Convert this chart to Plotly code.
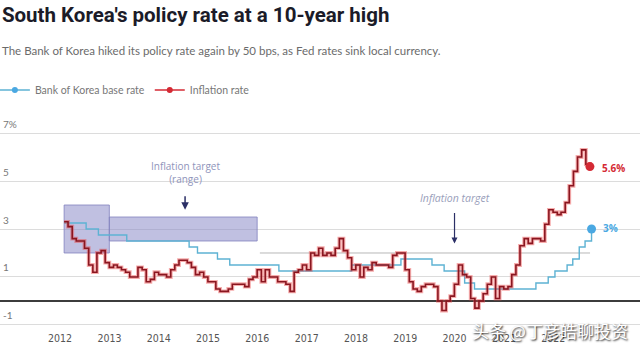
import plotly.graph_objects as go
import pandas as pd

# ---------------- data ----------------
years = list(range(2012, 2023))
year_labels = [str(y) for y in years]

# Bank of Korea base rate: change dates and new levels (%)
rate_dates = ["2012-01-31", "2012-07-12", "2012-10-11", "2013-05-09", "2014-08-14",
              "2014-10-15", "2015-03-12", "2015-06-11", "2016-06-09", "2017-11-30",
              "2018-11-30", "2019-07-18", "2019-10-16", "2020-03-16", "2020-05-28",
              "2021-08-26", "2021-11-25", "2022-01-14", "2022-04-14", "2022-05-26",
              "2022-07-13", "2022-08-25", "2022-10-12"]
rate_values = [3.25, 3.00, 2.75, 2.50, 2.25, 2.00, 1.75, 1.50, 1.25, 1.50,
               1.75, 1.50, 1.25, 0.75, 0.50, 0.75, 1.00, 1.25, 1.50, 1.75,
               2.25, 2.50, 3.00]

# Inflation (CPI y/y, %), monthly Jan 2012 - Sep 2022
cpi_values = [
    3.3, 3.1, 2.6, 2.5, 2.5, 2.2, 1.5, 1.2, 2.0, 2.1, 1.6, 1.4,   # 2012
    1.5, 1.4, 1.3, 1.2, 1.0, 1.0, 1.4, 1.3, 0.8, 0.9, 1.2, 1.1,   # 2013
    1.1, 1.0, 1.3, 1.5, 1.7, 1.7, 1.6, 1.4, 1.1, 1.2, 1.0, 0.8,   # 2014
    0.8, 0.5, 0.4, 0.4, 0.5, 0.7, 0.7, 0.7, 0.6, 0.9, 1.0, 1.3,   # 2015
    0.8, 1.3, 1.0, 1.0, 0.8, 0.8, 0.7, 0.4, 1.2, 1.3, 1.5, 1.3,   # 2016
    2.0, 1.9, 2.2, 1.9, 2.0, 1.9, 2.2, 2.6, 2.1, 1.8, 1.3, 1.5,   # 2017
    1.0, 1.4, 1.3, 1.6, 1.5, 1.5, 1.5, 1.4, 1.9, 2.0, 2.0, 1.3,   # 2018
    0.8, 0.5, 0.4, 0.6, 0.7, 0.7, 0.6, 0.0, -0.4, 0.0, 0.2, 0.7,  # 2019
    1.5, 1.1, 1.0, 0.1, -0.3, 0.0, 0.3, 0.7, 1.0, 0.1, 0.6, 0.5,  # 2020
    0.6, 1.1, 1.5, 2.3, 2.6, 2.4, 2.6, 2.6, 2.5, 3.2, 3.8, 3.7,   # 2021
    3.6, 3.7, 4.1, 4.8, 5.4, 6.0, 6.3, 5.7, 5.6,                  # 2022
]
cpi_dates = pd.date_range("2012-01-31", periods=len(cpi_values), freq="ME")

# Inflation target ranges (start, end, low, high) and point target
target_ranges = [("2012-01-31", "2012-12-31", 2.0, 4.0),
                 ("2012-12-31", "2015-12-31", 2.5, 3.5)]
target_line_dates = ["2016-01-20", "2022-10-01"]
target_line_values = [2.0, 2.0]

ytick_vals = [-1, 1, 3, 5, 7]
ytick_text = ["-1", "1", "3", "5", "7%"]

# ---------------- figure ----------------
BLUE = "#5db2d3"
fig = go.Figure()

for (s, e, lo, hi) in target_ranges:
    fig.add_shape(type="rect", xref="x", yref="y", x0=s, x1=e, y0=lo, y1=hi,
                  fillcolor="rgba(140,140,200,0.55)",
                  line=dict(color="rgba(130,130,190,0.8)", width=1), layer="between")

fig.add_trace(go.Scatter(x=target_line_dates, y=target_line_values, mode="lines",
                         line=dict(color="#b8b8b8", width=1), showlegend=False,
                         hoverinfo="skip"))

fig.add_trace(go.Scatter(x=rate_dates, y=rate_values, mode="lines", line_shape="hv",
                         line=dict(color=BLUE, width=1.4), showlegend=False))
fig.add_trace(go.Scatter(x=list(cpi_dates), y=cpi_values, mode="lines", line_shape="hv",
                         line=dict(color="rgba(235,70,70,0.45)", width=3.8),
                         showlegend=False, hoverinfo="skip"))
fig.add_trace(go.Scatter(x=list(cpi_dates), y=cpi_values, mode="lines", line_shape="hv",
                         line=dict(color="#8a1620", width=1.6), showlegend=False))

# end markers
fig.add_trace(go.Scatter(x=[rate_dates[-1]], y=[rate_values[-1]], mode="markers",
                         marker=dict(color="#4aa8e2", size=9), showlegend=False))
fig.add_trace(go.Scatter(x=[cpi_dates[-1]], y=[cpi_values[-1]], mode="markers",
                         marker=dict(color="#d42a34", size=9), showlegend=False))

# legend entries
fig.add_trace(go.Scatter(x=[None], y=[None], mode="lines+markers", name="Bank of Korea base rate",
                         line=dict(color=BLUE, width=1.5), marker=dict(color="#4aa8e2", size=6)))
fig.add_trace(go.Scatter(x=[None], y=[None], mode="lines+markers", name="Inflation rate",
                         line=dict(color="#d42a34", width=1.5), marker=dict(color="#d42a34", size=6)))

annots = [
    dict(x=0.0, y=1.2727, xref="paper", yref="paper", xanchor="left", yanchor="middle",
         text="The Bank of Korea hiked its policy rate again by 50 bps, as Fed rates sink local currency.",
         showarrow=False, font=dict(size=11.5, color="#6b6b6b", family="Lato, Open Sans, sans-serif")),
    dict(x="2014-07-15", y=5.375, xref="x", yref="y", text="Inflation target<br>(range)",
         showarrow=False, font=dict(size=10, color="#8f94bb", family="Open Sans, sans-serif"),
         yanchor="middle"),
    dict(x="2014-07-15", y=3.8, xref="x", yref="y", text="", showarrow=True, ax=0, ay=-15,
         arrowhead=2, arrowsize=1, arrowwidth=1.5, arrowcolor="#2b2f66"),
    dict(x="2020-01-01", y=4.3, xref="x", yref="y", text="<i>Inflation target</i>",
         showarrow=False, font=dict(size=10.5, color="#9aa0bb", family="Open Sans, sans-serif"),
         yanchor="middle"),
    dict(x="2020-01-01", y=2.4, xref="x", yref="y", text="", showarrow=True, ax=0, ay=-32,
         arrowhead=2, arrowsize=1, arrowwidth=1.2, arrowcolor="#2b2f66"),
    dict(x=cpi_dates[-1], y=cpi_values[-1], xref="x", yref="y", text="<b>%.1f%%</b>" % cpi_values[-1],
         showarrow=False, xanchor="left", xshift=10, yshift=-1,
         font=dict(size=10, color="#d42a34", family="Open Sans, sans-serif")),
    dict(x=rate_dates[-1], y=rate_values[-1], xref="x", yref="y", text="<b>%g%%</b>" % rate_values[-1],
         showarrow=False, xanchor="left", xshift=9, yshift=1,
         font=dict(size=10, color="#4aa8e2", family="Open Sans, sans-serif")),
    dict(x=0.985, y=-0.0, xref="paper", yref="paper", xanchor="right", yanchor="middle",
         text="头条 @丁彦皓聊投资", showarrow=False, yshift=0,
         font=dict(size=17, color="white", family="Noto Sans CJK SC",
                   shadow="1px 1px 2px rgba(0,0,0,0.9)")),
]

fig.update_layout(
    width=640, height=350,
    margin=dict(l=0, r=0, t=110, b=20, autoexpand=False),
    paper_bgcolor="white", plot_bgcolor="white",
    title=dict(text="<b>South Korea's policy rate at a 10-year high</b>", x=0.003, xanchor="left",
               y=1 - 15 / 350, yanchor="middle",
               font=dict(size=20.5, color="#1b1b28", family="Roboto, sans-serif")),
    legend=dict(orientation="h", x=-0.008, xanchor="left", y=1.0909, yanchor="middle",
                font=dict(size=10.5, color="#777777", family="Lato, sans-serif"),
                itemwidth=30, bgcolor="rgba(0,0,0,0)", tracegroupgap=0),
    annotations=annots,
    xaxis=dict(type="date", range=["2010-10-13", "2023-10-06"], automargin=False,
               tickvals=[f"{y}-01-01" for y in years], ticktext=year_labels,
               showgrid=False, zeroline=False, showline=False, ticks="",
               tickfont=dict(size=10.5, color="#555555", family="DejaVu Sans Condensed, sans-serif")),
    yaxis=dict(range=[-1.21, 7.96], tickvals=ytick_vals, ticktext=ytick_text, automargin=False,
               showgrid=True, gridcolor="#dcdcdc", gridwidth=1,
               zeroline=True, zerolinecolor="#3c3c3c", zerolinewidth=1.6,
               ticklabelposition="inside", ticklabelshift=-9, ticks="",
               tickfont=dict(size=10, color="#777777", family="Lato, sans-serif")),
    showlegend=True,
)

fig.write_html("out.html")
